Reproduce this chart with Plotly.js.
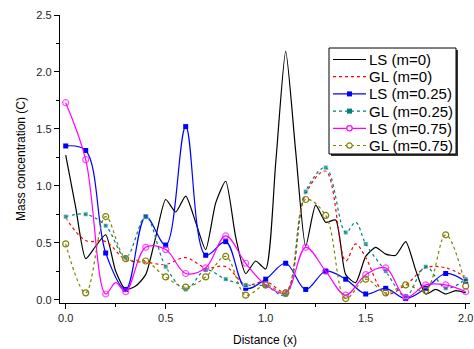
<!DOCTYPE html>
<html>
<head>
<meta charset="utf-8">
<script src="https://cdn.plot.ly/plotly-3.0.1.min.js"></script>
<style>html,body{margin:0;padding:0;background:#fff;}#chart{width:474px;height:349px;}</style>
</head>
<body>
<div id="chart"></div>
<script>
// ---- data ----
const xs = [0,0.1,0.2,0.3,0.4,0.5,0.6,0.7,0.8,0.9,1.0,1.1,1.2,1.3,1.4,1.5,1.6,1.7,1.8,1.9,2.0];

const ls0_x = [0,0.05,0.1,0.15,0.2,0.25,0.3,0.35,0.4,0.45,0.5,0.55,0.6,0.65,0.7,0.75,0.8,0.85,0.9,0.95,1.0,1.05,1.1,1.15,1.2,1.25,1.3,1.35,1.4,1.45,1.5,1.55,1.6,1.65,1.7,1.75,1.8,1.85,1.9,1.95,2.0];
const ls0_y = [1.27,0.81,0.36,0.47,0.57,0.25,0.09,0.12,0.22,0.55,0.88,0.77,0.91,0.68,0.44,0.85,1.04,0.55,0.23,0.34,0.27,1.2,2.18,1.3,0.47,0.83,0.68,0.7,0.22,0.15,0.38,0.46,0.4,0.39,0.51,0.26,0.05,0.09,0.05,0.08,0.06];

const gl0_x = [0,0.1,0.2,0.3,0.4,0.5,0.6,0.7,0.8,0.9,1.0,1.1,1.2,1.3,1.4,1.45,1.5,1.6,1.7,1.8,1.9,2.0];
const gl0_y = [0.72,0.52,0.51,0.35,0.33,0.31,0.37,0.28,0.29,0.13,0.16,0.07,0.93,1.13,0.34,0.49,0.37,0.05,0.13,0.28,0.28,0.2];

const ls25_y = [1.35,1.31,0.41,0.09,0.73,0.48,1.52,0.39,0.51,0.10,0.18,0.32,0.09,0.25,0.18,0.05,0.10,0.01,0.10,0.23,0.16];

const gl25_x = [0,0.1,0.2,0.3,0.4,0.5,0.6,0.7,0.8,0.9,1.0,1.1,1.2,1.3,1.4,1.45,1.5,1.6,1.7,1.8,1.9,2.0];
const gl25_y = [0.73,0.75,0.65,0.37,0.73,0.29,0.09,0.26,0.18,0.13,0.12,0.04,0.95,1.16,0.59,0.68,0.49,0.25,0.03,0.29,0.10,0.18];

const ls75_x = [0,0.1,0.2,0.25,0.3,0.4,0.5,0.6,0.7,0.8,0.9,1.0,1.1,1.2,1.3,1.4,1.5,1.6,1.7,1.8,1.9,2.0];
const ls75_y = [1.73,1.23,0.05,0.15,0.07,0.46,0.44,0.23,0.28,0.56,0.32,0.13,0.06,0.46,0.25,0.04,0.22,0.28,0.02,0.13,0.13,0.07];

const gl75_y = [0.49,0.06,0.73,0.36,0.34,0.20,0.11,0.20,0.38,0.04,0.13,0.06,0.88,0.74,0.01,0.18,0.06,0.13,0.08,0.57,0.12];

const names = ['LS (m=0)','GL (m=0)','LS (m=0.25)','GL (m=0.25)','LS (m=0.75)','GL (m=0.75)'];

// ---- styles ----
const colors  = ['#000000','#ff0000','#0000ff','#008080','#ff00ff','#808000'];
const dashes  = ['solid','dot','solid','dot','solid','dot'];
const symbols = [null, null, 'square', 'square', 'circle-open', 'circle-open'];

function onGrid(x){ return Math.abs(x*10 - Math.round(x*10)) < 1e-6; }
function sizes(arr, s){ return arr.map(x => onGrid(x) ? s : 0); }

const F = '"Liberation Sans", Arial, sans-serif';
const LW = 1.2;
const traces = [
  {x: ls0_x, y: ls0_y, name: names[0], mode: 'lines',
   line: {color: colors[0], width: LW, shape: 'spline', smoothing: 0.6}},
  {x: gl0_x, y: gl0_y, name: names[1], mode: 'lines',
   line: {color: colors[1], width: LW, dash: dashes[1], shape: 'spline', smoothing: 1}},
  {x: xs, y: ls25_y, name: names[2], mode: 'lines+markers',
   line: {color: colors[2], width: LW, shape: 'spline', smoothing: 1},
   marker: {symbol: symbols[2], size: 5, color: colors[2]}},
  {x: gl25_x, y: gl25_y, name: names[3], mode: 'lines+markers',
   line: {color: colors[3], width: LW, dash: dashes[3], shape: 'spline', smoothing: 1},
   marker: {symbol: symbols[3], size: sizes(gl25_x, 5), color: colors[3]}},
  {x: ls75_x, y: ls75_y, name: names[4], mode: 'lines+markers',
   line: {color: colors[4], width: LW, shape: 'spline', smoothing: 1},
   marker: {symbol: symbols[4], size: sizes(ls75_x, 6), color: colors[4], line: {width: 1.2}}},
  {x: xs, y: gl75_y, name: names[5], mode: 'lines+markers',
   line: {color: colors[5], width: LW, dash: dashes[5], shape: 'spline', smoothing: 1},
   marker: {symbol: symbols[5], size: 6, color: colors[5], line: {width: 1.2}}}
];

// ---- plot geometry (pixels) ----
const W = 474, H = 349;
const M = {l: 60, r: 4, t: 15, b: 46};
const PW = W - M.l - M.r, PH = H - M.t - M.b;
const px2x = p => (p - M.l) / PW;
const py2y = p => (H - M.b - p) / PH;

// ---- custom legend (box with shadow, samples, real-text labels) ----
const LG = {x0: 329, y0: 48, x1: 456, y1: 154, row0: 59.5, rowH: 17.2, s0: 333, s1: 366, tx: 368, shadow: 2};
const shapes = [];
const annotations = [];
shapes.push({type: 'rect', xref: 'paper', yref: 'paper',
  x0: px2x(LG.x0 + LG.shadow), x1: px2x(LG.x1 + LG.shadow), y0: py2y(LG.y1 + LG.shadow), y1: py2y(LG.y0 + LG.shadow),
  fillcolor: '#333', line: {width: 0}});
shapes.push({type: 'rect', xref: 'paper', yref: 'paper',
  x0: px2x(LG.x0), x1: px2x(LG.x1), y0: py2y(LG.y1), y1: py2y(LG.y0),
  fillcolor: '#fff', line: {color: '#000', width: 1}});
names.forEach((nm, i) => {
  const cy = LG.row0 + i * LG.rowH;
  shapes.push({type: 'line', xref: 'paper', yref: 'paper',
    x0: px2x(LG.s0), x1: px2x(LG.s1), y0: py2y(cy), y1: py2y(cy),
    line: {color: colors[i], width: LW, dash: dashes[i]}});
  const mx = (LG.s0 + LG.s1) / 2;
  if (symbols[i] === 'square') {
    shapes.push({type: 'rect', xref: 'paper', yref: 'paper',
      x0: px2x(mx - 2.5), x1: px2x(mx + 2.5), y0: py2y(cy + 2.5), y1: py2y(cy - 2.5),
      fillcolor: colors[i], line: {width: 0}});
  } else if (symbols[i] === 'circle-open') {
    shapes.push({type: 'circle', xref: 'paper', yref: 'paper',
      x0: px2x(mx - 2.7), x1: px2x(mx + 2.7), y0: py2y(cy + 2.7), y1: py2y(cy - 2.7),
      fillcolor: '#fff', line: {color: colors[i], width: 1.2}});
  }
  annotations.push({xref: 'paper', yref: 'paper', x: px2x(LG.tx), y: py2y(cy),
    xanchor: 'left', yanchor: 'middle', showarrow: false, text: nm,
    font: {family: F, size: 15, color: '#000'}, borderpad: 0});
});

const axisCommon = {
  showline: true, linecolor: '#000', linewidth: 1.2, mirror: false,
  showgrid: false, zeroline: false,
  ticks: 'outside', ticklen: 5, tickwidth: 1, tickcolor: '#000',
  tickfont: {family: F, size: 11, color: '#222'},
  minor: {ticks: 'outside', ticklen: 3, tickwidth: 1, tickcolor: '#000', dtick: 0.25, showgrid: false}
};

const layout = {
  width: W, height: H,
  margin: M,
  paper_bgcolor: '#fff', plot_bgcolor: '#fff',
  font: {family: F, color: '#000'},
  xaxis: Object.assign({}, axisCommon, {
    range: [-0.0285, 2.0215], dtick: 0.5, tick0: 0, tickformat: '.1f',
    title: {text: 'Distance (x)', font: {family: F, size: 12, color: '#000'}, standoff: 12}
  }),
  yaxis: Object.assign({}, axisCommon, {
    range: [-0.029, 2.5], dtick: 0.5, tick0: 0, tickformat: '.1f',
    title: {text: 'Mass concentration (C)', font: {family: F, size: 12, color: '#000'}, standoff: 8}
  }),
  showlegend: false,
  shapes: shapes,
  annotations: annotations
};

Plotly.newPlot('chart', traces, layout, {staticPlot: true, displayModeBar: false});
</script>
</body>
</html>
